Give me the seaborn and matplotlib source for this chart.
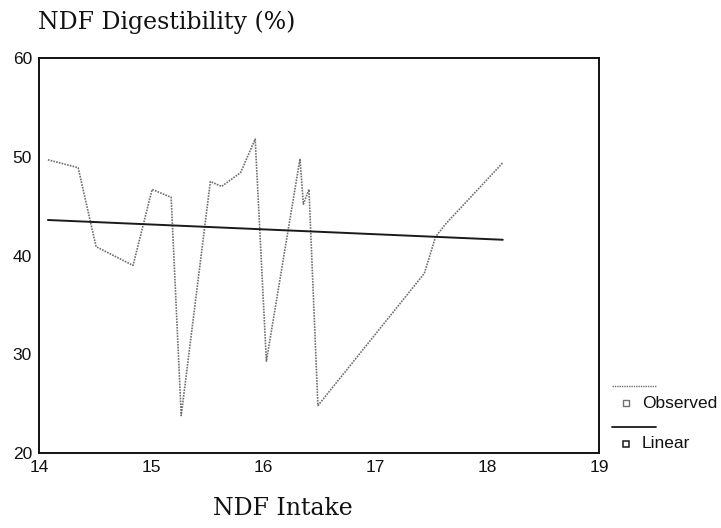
import matplotlib
matplotlib.use("Agg")
import matplotlib.pyplot as plt
from matplotlib.lines import Line2D
import seaborn as sns
import pandas as pd

# Observed data (NDF intake vs NDF digestibility)
ndf_intake = [14.08, 14.35, 14.51, 14.84, 15.01, 15.18, 15.27, 15.53, 15.63, 15.80,
              15.93, 16.03, 16.33, 16.36, 16.41, 16.49, 17.44, 17.54, 17.63, 18.14]
ndf_digest = [49.7, 48.9, 40.9, 39.0, 46.7, 45.9, 23.8, 47.5, 47.0, 48.4,
              51.8, 29.3, 49.8, 45.2, 46.7, 24.8, 38.2, 41.9, 43.2, 49.4]

# Linear fit line (endpoints)
linear_x = [14.08, 18.14]
linear_y = [43.6, 41.6]

x_ticks = [14, 15, 16, 17, 18, 19]
y_ticks = [20, 30, 40, 50, 60]

sns.set_style("white")
plt.rcParams['font.family'] = ['Liberation Sans', 'DejaVu Sans']

fig = plt.figure(figsize=(7.21, 5.28), dpi=100)
ax = fig.add_axes([0.054, 0.142, 0.777, 0.748])

obs = pd.DataFrame({"x": ndf_intake, "y": ndf_digest})
lin = pd.DataFrame({"x": linear_x, "y": linear_y})

sns.lineplot(data=obs, x="x", y="y", ax=ax, sort=False, color="#707070",
             linewidth=1.2, linestyle=(0, (1, 0.7)), estimator=None)
sns.lineplot(data=lin, x="x", y="y", ax=ax, sort=False, color="#1a1a1a",
             linewidth=1.4, estimator=None)

ax.set_xlim(14, 19)
ax.set_ylim(20, 60)
ax.set_xticks(x_ticks)
ax.set_yticks(y_ticks)
ax.set_xticklabels([str(t) for t in x_ticks])
ax.set_yticklabels([str(t) for t in y_ticks])
ax.tick_params(axis='both', direction='out', length=2.5, width=2.5,
               colors='#111111', labelsize=12.5, pad=2.5)
ax.set_xlabel("")
ax.set_ylabel("")
for s in ax.spines.values():
    s.set_color("#111111")
    s.set_linewidth(1.4)
    s.set_visible(True)

serif = ['DejaVu Serif']
fig.text(0.053, 0.958, "NDF Digestibility (%)", family=serif, fontsize=17,
         ha='left', va='center', color='#111111')
fig.text(0.393, 0.036, "NDF Intake", family=serif, fontsize=17,
         ha='center', va='center', color='#111111')

# SPSS-style legend on the right
W, H = 721, 528
def fx(p):
    return p / W
def fy(p):
    return 1 - p / H

fig.add_artist(Line2D([fx(612), fx(656)], [fy(386), fy(386)], color="#707070",
                      linewidth=1.0, linestyle=(0, (1, 0.7)), transform=fig.transFigure))
fig.add_artist(Line2D([fx(626)], [fy(403)], marker='s', markersize=5,
                      markerfacecolor='white', markeredgecolor='#707070',
                      markeredgewidth=1.0, linestyle='none', transform=fig.transFigure))
fig.text(fx(642), fy(403), "Observed", fontsize=12.5, ha='left', va='center',
         color='#111111')

fig.add_artist(Line2D([fx(612), fx(656)], [fy(427), fy(427)], color="#1a1a1a",
                      linewidth=1.3, transform=fig.transFigure))
fig.add_artist(Line2D([fx(626)], [fy(444)], marker='s', markersize=5,
                      markerfacecolor='white', markeredgecolor='#1a1a1a',
                      markeredgewidth=1.1, linestyle='none', transform=fig.transFigure))
fig.text(fx(642), fy(444), "Linear", fontsize=12.5, ha='left', va='center',
         color='#111111')

fig.savefig("out.png", dpi=100)
